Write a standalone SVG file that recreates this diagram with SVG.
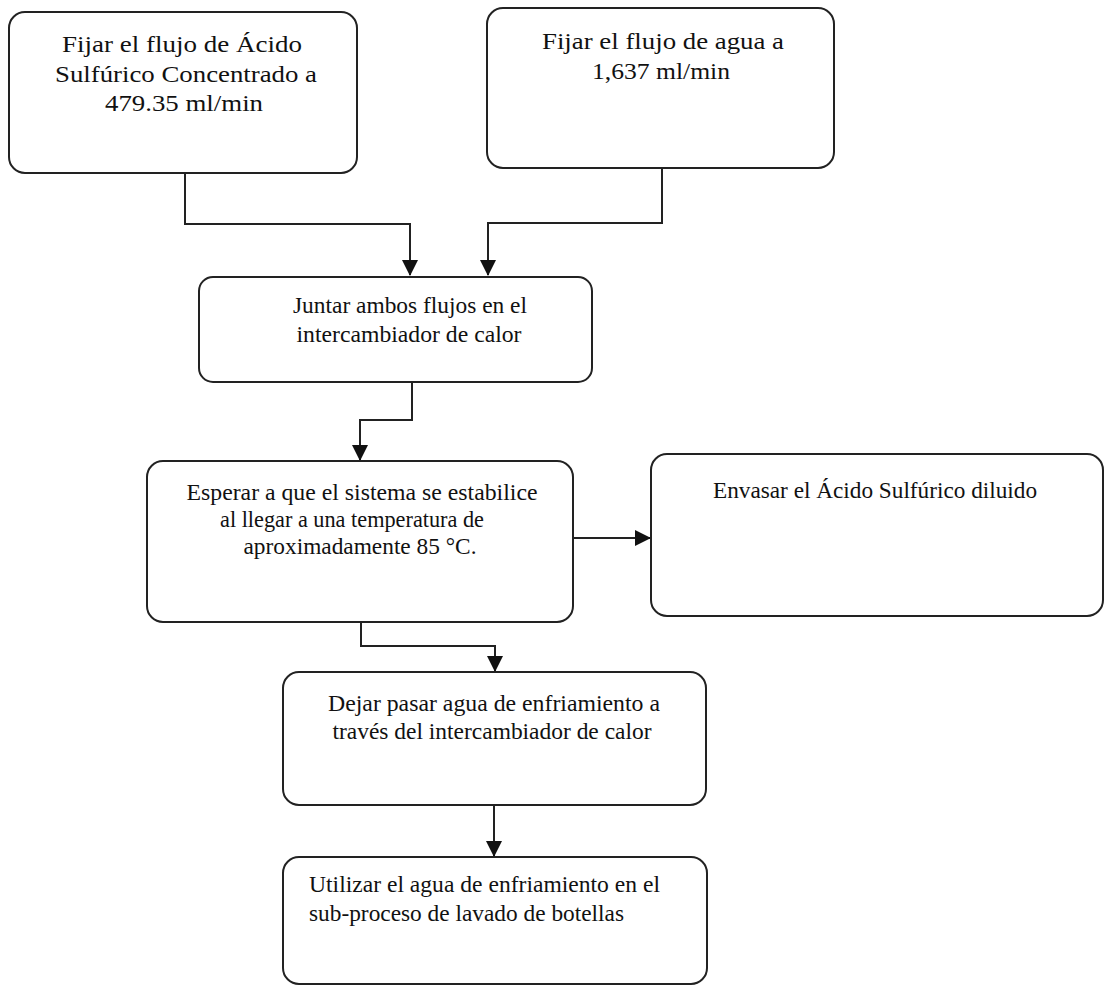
<svg xmlns="http://www.w3.org/2000/svg" width="1110" height="986" viewBox="0 0 1110 986">
<style>
.box{fill:#fff;stroke:#222;stroke-width:2}
.t{font-family:"Liberation Serif","Times New Roman",serif;font-size:23px;fill:#111}
.b{font-size:24px}
.c{text-anchor:middle}
.ln{fill:none;stroke:#222;stroke-width:2}
</style>
<defs>
<marker id="ah" viewBox="0 0 16 16" refX="15" refY="8" markerWidth="16" markerHeight="16" markerUnits="userSpaceOnUse" orient="auto">
<path d="M0,0 L16,8 L0,16 Z" fill="#111"/>
</marker>
</defs>
<rect width="1110" height="986" fill="#fff"/>
<g id="connectors">
<path class="ln" d="M185,173 V224 H410 V275" marker-end="url(#ah)"/>
<path class="ln" d="M662,168 V223 H488 V275" marker-end="url(#ah)"/>
<path class="ln" d="M412,382 V420 H360 V460" marker-end="url(#ah)"/>
<path class="ln" d="M573,538 H650" marker-end="url(#ah)"/>
<path class="ln" d="M361,622 V646 H495 V671" marker-end="url(#ah)"/>
<path class="ln" d="M494,805 V856" marker-end="url(#ah)"/>
</g>
<g id="n1">
<rect class="box" x="9" y="12" width="348" height="161" rx="16"/>
<text class="t b c" x="182" y="52" textLength="240" lengthAdjust="spacingAndGlyphs">Fijar el flujo de Ácido</text>
<text class="t b c" x="186" y="82" textLength="262" lengthAdjust="spacingAndGlyphs">Sulfúrico Concentrado a</text>
<text class="t b c" x="184" y="111" textLength="158" lengthAdjust="spacingAndGlyphs">479.35 ml/min</text>
</g>
<g id="n2">
<rect class="box" x="487" y="8" width="347" height="160" rx="16"/>
<text class="t b c" x="663" y="49" textLength="242" lengthAdjust="spacingAndGlyphs">Fijar el flujo de agua a</text>
<text class="t b c" x="661" y="79" textLength="138" lengthAdjust="spacingAndGlyphs">1,637 ml/min</text>
</g>
<g id="n3">
<rect class="box" x="199" y="277" width="393" height="105" rx="14"/>
<text class="t c" x="410" y="313" textLength="234" lengthAdjust="spacingAndGlyphs">Juntar ambos flujos en el</text>
<text class="t c" x="409" y="342" textLength="225" lengthAdjust="spacingAndGlyphs">intercambiador de calor</text>
</g>
<g id="n4">
<rect class="box" x="147" y="461" width="426" height="161" rx="16"/>
<text class="t c" x="362" y="500" textLength="351" lengthAdjust="spacingAndGlyphs">Esperar a que el sistema se estabilice</text>
<text class="t c" x="352" y="527" textLength="264" lengthAdjust="spacingAndGlyphs">al llegar a una temperatura de</text>
<text class="t c" x="360" y="554" textLength="233" lengthAdjust="spacingAndGlyphs">aproximadamente 85 °C.</text>
</g>
<g id="n5">
<rect class="box" x="651" y="454" width="452" height="162" rx="16"/>
<text class="t c" x="875" y="498" textLength="324" lengthAdjust="spacingAndGlyphs">Envasar el Ácido Sulfúrico diluido</text>
</g>
<g id="n6">
<rect class="box" x="283" y="672" width="423" height="133" rx="16"/>
<text class="t c" x="494" y="711" textLength="332" lengthAdjust="spacingAndGlyphs">Dejar pasar agua de enfriamiento a</text>
<text class="t c" x="492" y="739" textLength="319" lengthAdjust="spacingAndGlyphs">través del intercambiador de calor</text>
</g>
<g id="n7">
<rect class="box" x="283" y="857" width="424" height="127" rx="16"/>
<text class="t" x="309" y="892" textLength="351" lengthAdjust="spacingAndGlyphs">Utilizar el agua de enfriamiento en el</text>
<text class="t" x="309" y="921" textLength="315" lengthAdjust="spacingAndGlyphs">sub-proceso de lavado de botellas</text>
</g>
</svg>
